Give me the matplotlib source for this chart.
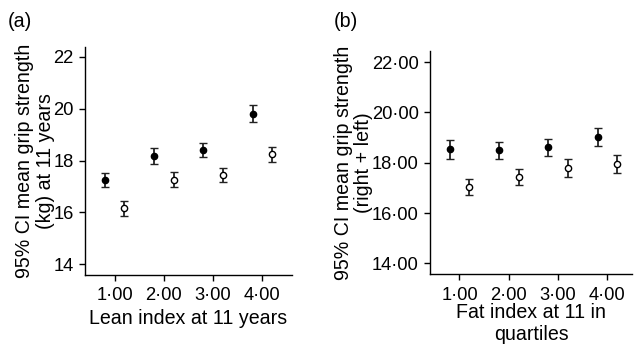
import matplotlib
matplotlib.use("Agg")
import matplotlib.pyplot as plt

plt.rcParams['font.family'] = ['Liberation Sans', 'DejaVu Sans']

quartiles = [1, 2, 3, 4]
offset = 0.2

# Panel (a): lean index
a_filled = [17.25, 18.17, 18.40, 19.80]
a_filled_err = [0.28, 0.30, 0.28, 0.33]
a_open = [16.15, 17.25, 17.44, 18.24]
a_open_err = [0.28, 0.29, 0.28, 0.30]

# Panel (b): fat index
b_filled = [18.53, 18.49, 18.62, 19.02]
b_filled_err = [0.38, 0.33, 0.34, 0.36]
b_open = [17.04, 17.43, 17.80, 17.96]
b_open_err = [0.31, 0.32, 0.36, 0.35]

a_yticks = [14, 16, 18, 20, 22]
a_yticklabels = ['14', '16', '18', '20', '22']
b_yticks = [14, 16, 18, 20, 22]
b_yticklabels = ['14·00', '16·00', '18·00', '20·00', '22·00']
xticklabels = ['1·00', '2·00', '3·00', '4·00']

TICK_FS = 13.2
LABEL_FS = 14.1

fig = plt.figure(figsize=(6.34, 3.55), dpi=100)
axa = fig.add_axes([0.134, 0.2254, 0.3265, 0.642])
axb = fig.add_axes([0.678, 0.227, 0.319, 0.63])

def draw(ax, filled, ferr, opn, oerr, ylo, yhi, xhi):
    xf = [q - offset for q in quartiles]
    xo = [q + offset for q in quartiles]
    ax.errorbar(xf, filled, yerr=ferr, fmt='o', color='black', ms=4.5,
                mfc='black', mec='black', ecolor='#222222', elinewidth=1.3,
                capsize=3, capthick=1.0)
    ax.errorbar(xo, opn, yerr=oerr, fmt='o', color='black', ms=4.5,
                mfc='white', mec='black', mew=1.0, ecolor='#222222',
                elinewidth=1.3, capsize=3, capthick=1.0)
    ax.set_xlim(0.4, xhi)
    ax.set_ylim(ylo, yhi)
    for s in ['top', 'right']:
        ax.spines[s].set_visible(False)
    for s in ['left', 'bottom']:
        ax.spines[s].set_linewidth(1.0)
    ax.set_xticks(quartiles)
    ax.set_xticklabels(xticklabels)
    ax.tick_params(axis='both', direction='out', length=4, width=1.0,
                   labelsize=TICK_FS, pad=4)
    ax.tick_params(axis='x', pad=5)

draw(axa, a_filled, a_filled_err, a_open, a_open_err, 13.58, 22.38, 4.6)
axa.set_yticks(a_yticks)
axa.set_yticklabels(a_yticklabels)
axa.set_ylabel('95% CI mean grip strength\n(kg) at 11 years', fontsize=LABEL_FS,
               linespacing=1.1, labelpad=-1)
axa.set_xlabel('Lean index at 11 years', fontsize=LABEL_FS, labelpad=3)

draw(axb, b_filled, b_filled_err, b_open, b_open_err, 13.56, 22.45, 4.5)
axb.set_yticks(b_yticks)
axb.set_yticklabels(b_yticklabels)
axb.set_ylabel('95% CI mean grip strength\n(right + left)', fontsize=LABEL_FS,
               linespacing=1.1, labelpad=-1)
axb.set_xlabel('Fat index at 11 in\nquartiles', fontsize=LABEL_FS, labelpad=-1,
               linespacing=1.2)

fig.text(0.012, 0.94, '(a)', fontsize=LABEL_FS, va='center', ha='left')
fig.text(0.527, 0.94, '(b)', fontsize=LABEL_FS, va='center', ha='left')

fig.savefig('out.png', dpi=100)
